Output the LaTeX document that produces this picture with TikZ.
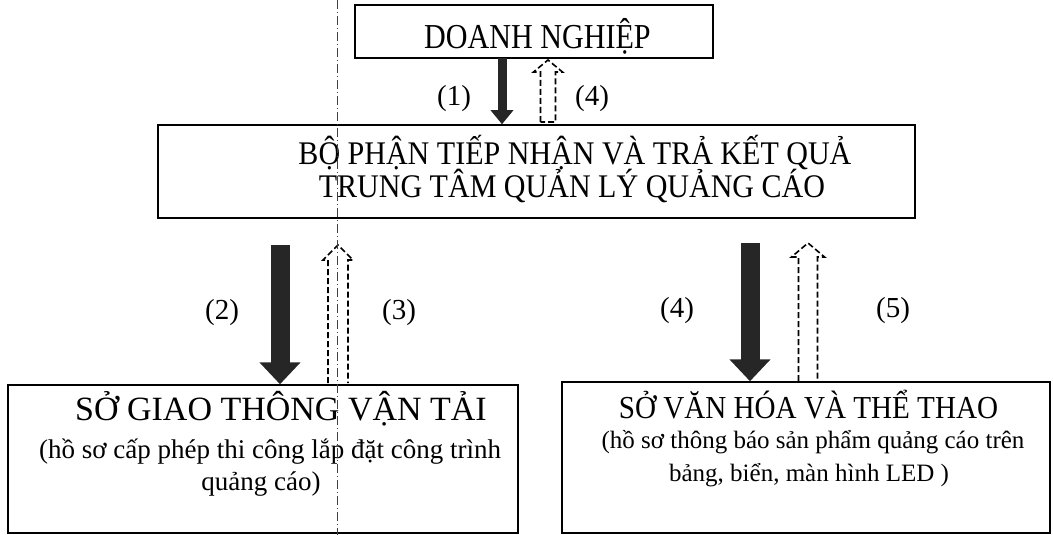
\documentclass[tikz,border=0pt]{standalone}
\usepackage{fontspec}
\setmainfont{Liberation Serif}
\newfontfamily\tallfont[FakeStretch=0.86]{Liberation Serif}
\newfontfamily\narrowfont[FakeStretch=0.91]{Liberation Serif}
\usetikzlibrary{positioning,arrows.meta}

\begin{document}
\begin{tikzpicture}[x=1pt,y=-1pt,
	boxstyle/.style={draw, line width=1.5pt, inner sep=0pt},
	textline/.style={anchor=base, inner sep=0pt},
	numstyle/.style={font=\fontsize{29}{32}\selectfont},
	fullarrow/.style={line width=19pt, draw=black!85, -{Triangle[width=40pt,length=22pt]}},
	smallarrow/.style={line width=9pt, draw=black!85, -{Triangle[width=22pt,length=14pt]}},
	emptyarrow/.style={line width=1.6pt, dash pattern=on 6pt off 3pt, line join=miter},
	guideline/.style={black!75, line width=0.6pt, dash pattern=on 9pt off 3pt on 1pt off 3pt}
	]
	\useasboundingbox (0,0) rectangle (1053,535);
	
	% boxes
	\node[boxstyle, minimum width=358pt, minimum height=53pt] (dn) at (534,31.5) {};
	\node[boxstyle, minimum width=757pt, minimum height=93pt] (bp) at (536.5,171.5) {};
	\node[boxstyle, minimum width=510pt, minimum height=148pt] (sgt) at (263,459) {};
	\node[boxstyle, minimum width=488pt, minimum height=151pt] (svh) at (806,457.5) {};
	
	% texts
	\node[textline, font=\tallfont\fontsize{35}{35}\selectfont] (dnT) at (537.5,49) {DOANH NGHIỆP};
	\node[textline, font=\narrowfont\fontsize{33}{33}\selectfont] (bpT1) at (575,164) {BỘ PHẬN TIẾP NHẬN VÀ TRẢ KẾT QUẢ};
	\node[textline, font=\narrowfont\fontsize{33}{33}\selectfont] (bpT2) at (572,197) {TRUNG TÂM QUẢN LÝ QUẢNG CÁO};
	\node[textline, font=\fontsize{34}{34}\selectfont] (sgtT) at (281,420) {SỞ GIAO THÔNG VẬN TẢI};
	\node[textline, font=\fontsize{27}{27}\selectfont] (sgtS1) at (270,458) {(hồ sơ cấp phép thi công lắp đặt công trình};
	\node[textline, font=\fontsize{27}{27}\selectfont] (sgtS2) at (261,490) {quảng cáo)};
	\node[textline, font=\narrowfont\fontsize{32}{32}\selectfont] (svhT) at (808.5,418) {SỞ VĂN HÓA VÀ THỂ THAO};
	\node[textline, font=\fontsize{25}{25}\selectfont] (svhS1) at (813,448) {(hồ sơ thông báo sản phẩm quảng cáo trên};
	\node[textline, font=\fontsize{25}{25}\selectfont] (svhS2) at (809,481) {bảng, biển, màn hình LED )};
	
	% arrows
	\coordinate (a1) at (502,58);
	\coordinate (a2) at (280,245);
	\coordinate (a3) at (750,243);
	\draw[smallarrow] (a1) -- (a1 |- bp.north);
	\draw[fullarrow] (a2) -- (a2 |- sgt.north);
	\draw[fullarrow] (a3) -- (a3 |- svh.north);
	
	\coordinate (h1) at (548,122);
	\coordinate (h2) at (338,383);
	\coordinate (h3) at (808,381);
	\draw[emptyarrow] (h1) ++(-7.5,0) -- ++(0,-50) -- ++(-7,0) -- ++(14.5,-12) -- ++(14.5,12) -- ++(-7,0) -- ++(0,50) -- cycle;
	\draw[emptyarrow] (h2) ++(-10,0) -- ++(0,-123) -- ++(-5,0) -- ++(15,-15) -- ++(15,15) -- ++(-5,0) -- ++(0,123);
	\draw[emptyarrow] (h3) ++(-9.5,0) -- ++(0,-124) -- ++(-7,0) -- ++(16.5,-14) -- ++(16.5,14) -- ++(-7,0) -- ++(0,124);
	
	% labels
	\node[numstyle] (n1) at (454,99) {(1)};
	\node[numstyle] (n4a) at (592,99) {(4)};
	\node[numstyle] (n2) at (222,313) {(2)};
	\node[numstyle] (n3) at (399,313) {(3)};
	\node[numstyle] (n4b) at (677,311) {(4)};
	\node[numstyle] (n5) at (893,311) {(5)};
	
	\draw[guideline] (337,0) -- (337,535);
\end{tikzpicture}
\end{document}
